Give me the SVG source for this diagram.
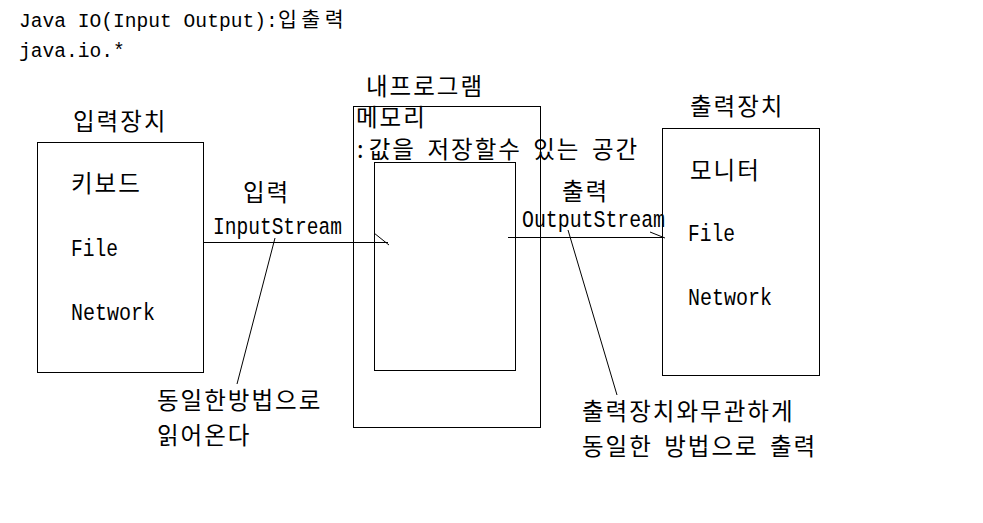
<svg xmlns="http://www.w3.org/2000/svg" width="983" height="523" viewBox="0 0 983 523">
<style>
.box{fill:none;stroke:#000;stroke-width:1}
.ln{fill:none;stroke:#000;stroke-width:1}
text{fill:#000}
.m{font-family:"Liberation Mono","DejaVu Sans Mono",monospace}
.k{font-family:"Noto Sans CJK KR","Noto Sans",sans-serif;font-size:23.5px;letter-spacing:2px}
.t{font-size:24.5px}
</style>
<rect width="983" height="523" fill="#fff"/>
<g id="title">
<text y="27"><tspan x="19" class="m" style="font-size:19.6px">Java IO(Input Output):</tspan><tspan x="278" class="k" style="font-size:20.5px;letter-spacing:4.5px">입출력</tspan></text>
<text x="19" y="57" class="m" style="font-size:19.6px">java.io.*</text>
</g>
<g id="input-device">
<rect class="box" x="37.5" y="142.5" width="166" height="230"/>
<text class="k" x="73" y="130">입력장치</text>
<text class="k" x="71" y="192">키보드</text>
<text class="m t" x="71" y="256" textLength="47" lengthAdjust="spacingAndGlyphs">File</text>
<text class="m t" x="71" y="320" textLength="84" lengthAdjust="spacingAndGlyphs">Network</text>
</g>
<g id="my-program">
<rect class="box" x="353.5" y="106.5" width="187" height="321"/>
<rect class="box" x="374.5" y="162.5" width="141" height="208"/>
<text class="k" x="366" y="95">내프로그램</text>
<text class="k" x="356" y="126">메모리</text>
<text class="k" y="158"><tspan x="357">:</tspan><tspan x="368.75">값을</tspan> <tspan x="427.5">저장할수</tspan> <tspan x="533.25">있는</tspan> <tspan x="592">공간</tspan></text>
</g>
<g id="output-device">
<rect class="box" x="662.5" y="128.5" width="157" height="247"/>
<text class="k" x="690" y="115">출력장치</text>
<text class="k" x="690" y="179">모니터</text>
<text class="m t" x="688" y="241" textLength="47" lengthAdjust="spacingAndGlyphs">File</text>
<text class="m t" x="688" y="305" textLength="84" lengthAdjust="spacingAndGlyphs">Network</text>
</g>
<g id="connectors">
<line class="ln" x1="203" y1="242.5" x2="388" y2="242.5"/>
<line class="ln" x1="374" y1="233" x2="389" y2="245"/>
<line class="ln" x1="508" y1="237.5" x2="662" y2="237.5"/>
<line class="ln" x1="650" y1="232" x2="665" y2="238"/>
<line class="ln" x1="275" y1="238" x2="237" y2="384"/>
<line class="ln" x1="568" y1="230" x2="617" y2="395"/>
</g>
<g id="labels">
<text class="k" x="243" y="201">입력</text>
<text class="m t" x="213" y="234" textLength="129" lengthAdjust="spacingAndGlyphs">InputStream</text>
<text class="k" x="562" y="200">출력</text>
<text class="m t" x="522" y="227" textLength="143" lengthAdjust="spacingAndGlyphs">OutputStream</text>
<text class="k" x="157" y="409">동일한방법으로</text>
<text class="k" x="157" y="443.5">읽어온다</text>
<text class="k" x="582" y="420">출력장치와무관하게</text>
<text class="k" y="454.5"><tspan x="582">동일한</tspan> <tspan x="664.25">방법으로</tspan> <tspan x="770">출력</tspan></text>
</g>
</svg>
